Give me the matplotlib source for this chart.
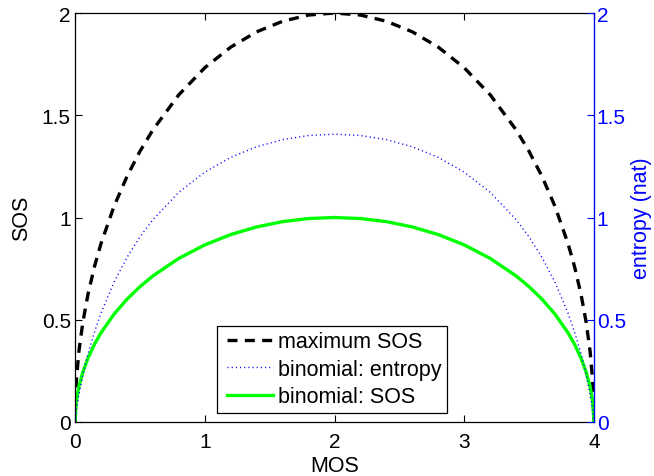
import matplotlib
matplotlib.use("Agg")
import numpy as np
import matplotlib.pyplot as plt
from matplotlib.legend_handler import HandlerLine2D

plt.rcParams['font.family'] = ['Liberation Sans', 'DejaVu Sans']
plt.rcParams['font.size'] = 15

# MOS sample points (left half; right half mirrors it about MOS = 2)
mos_half = [0.0, 0.01, 0.03, 0.06, 0.1, 0.15, 0.2, 0.3, 0.4, 0.5, 0.6,
            0.8, 1.0, 1.2, 1.4, 1.6, 1.8, 2.0]
max_sos_half = [0.0, 0.1998, 0.3451, 0.4862, 0.6245, 0.7599, 0.8718, 1.0536,
                1.2000, 1.3229, 1.4283, 1.6000, 1.7321, 1.8330, 1.9079,
                1.9596, 1.9900, 2.0000]
binom_entropy_half = [0.0, 0.0561, 0.1354, 0.2297, 0.3327, 0.4400, 0.5314,
                      0.6825, 0.8040, 0.9046, 0.9894, 1.1231, 1.2216, 1.2940,
                      1.3459, 1.3808, 1.4010, 1.4075]
binom_sos_half = [0.0, 0.0999, 0.1726, 0.2431, 0.3122, 0.3800, 0.4359, 0.5268,
                  0.6000, 0.6614, 0.7141, 0.8000, 0.8660, 0.9165, 0.9539,
                  0.9798, 0.9950, 1.0000]

mos = mos_half + [4.0 - v for v in reversed(mos_half[:-1])]
max_sos = max_sos_half + list(reversed(max_sos_half[:-1]))
binom_entropy = binom_entropy_half + list(reversed(binom_entropy_half[:-1]))
binom_sos = binom_sos_half + list(reversed(binom_sos_half[:-1]))

x_ticks = [0, 1, 2, 3, 4]
y_ticks = [0, 0.5, 1, 1.5, 2]
y_ticklabels = ['0', '0.5', '1', '1.5', '2']


class InsetLineHandler(HandlerLine2D):
    """Legend line sample that starts a little right of the handle box."""

    def __init__(self, inset=0.2, **kw):
        super().__init__(**kw)
        self.inset = inset

    def get_xdata(self, legend, xdescent, ydescent, width, height, fontsize):
        start = -xdescent + self.inset * fontsize
        xdata = np.array([start, -xdescent + width])
        return xdata, xdata


fig = plt.figure(figsize=(6.54, 4.77), dpi=100)
ax = fig.add_axes([75 / 654, 1 - 423 / 477, (594 - 75) / 654, (423 - 14) / 477])
ax2 = ax.twinx()

l1, = ax.plot(mos, max_sos, color='black', linestyle=(0, (3.0, 2.2)),
              linewidth=2.4, label='maximum SOS')
l2, = ax2.plot(mos, binom_entropy, color='blue', linestyle=(0, (0.8, 2.2)),
               linewidth=1.0, label='binomial: entropy')
l3, = ax.plot(mos, binom_sos, color='#00ff00', linestyle='-',
              linewidth=2.4, label='binomial: SOS')

for a in (ax, ax2):
    a.set_xlim(0, 4)
    a.set_ylim(0, 2)
    a.set_yticks(y_ticks)
    a.set_yticklabels(y_ticklabels)

ax.set_xticks(x_ticks)
ax.set_xticklabels([str(v) for v in x_ticks])
ax.tick_params(axis='both', direction='in', length=5, width=0.8,
               top=True, right=False, colors='black', labelsize=15)
ax.tick_params(axis='y', pad=3)
ax.tick_params(axis='x', pad=7)
ax2.tick_params(axis='y', direction='in', length=5, width=0.8,
                colors='blue', pad=2, labelsize=15)

for s in ('left', 'bottom', 'top'):
    ax.spines[s].set_linewidth(0.9)
ax2.spines['right'].set_color('blue')
ax2.spines['right'].set_linewidth(0.9)
ax2.spines['left'].set_visible(False)
ax2.spines['top'].set_visible(False)
ax2.spines['bottom'].set_visible(False)

ax.set_xlabel('MOS', labelpad=3, fontsize=15.5)
ax.set_ylabel('SOS', labelpad=7, fontsize=15.5)
ax2.set_ylabel('entropy (nat)', color='blue', labelpad=4, fontsize=15.5)

handles = [l1, l2, l3]
leg = ax2.legend(handles, [h.get_label() for h in handles],
                 loc='lower left', bbox_to_anchor=(142 / 519, 9 / 409),
                 frameon=True, fancybox=False, edgecolor='black',
                 framealpha=1, borderpad=0.26, labelspacing=0.3,
                 handlelength=2.35, handletextpad=0.23, borderaxespad=0,
                 fontsize=15.5,
                 handler_map={h: InsetLineHandler(inset=0.21) for h in handles})
leg.get_frame().set_linewidth(0.9)

fig.savefig('out.png', dpi=100)
